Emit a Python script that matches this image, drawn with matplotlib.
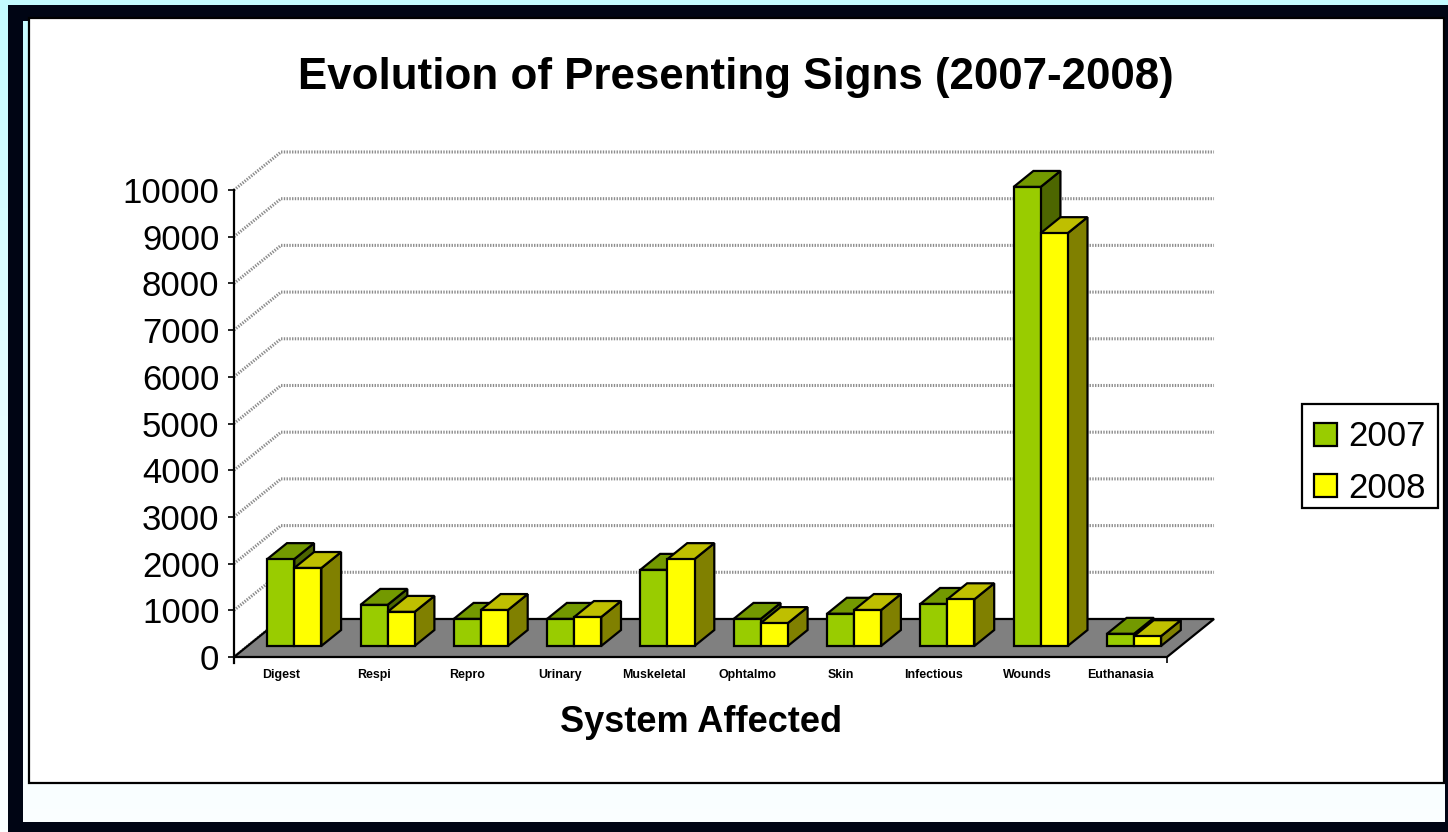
import numpy as np
import matplotlib
matplotlib.use("Agg")
import matplotlib.pyplot as plt
from matplotlib.colors import LinearSegmentedColormap
from matplotlib.patches import Rectangle

plt.rcParams['font.family'] = ['Liberation Sans', 'DejaVu Sans']

categories = ["Digest", "Respi", "Repro", "Urinary", "Muskeletal",
              "Ophtalmo", "Skin", "Infectious", "Wounds", "Euthanasia"]
values_2007 = [1860, 880, 580, 580, 1630, 580, 690, 900, 9830, 260]
values_2008 = [1670, 730, 770, 620, 1860, 490, 770, 1000, 8840, 210]
y_ticks = list(range(0, 11000, 1000))

W, H = 1448, 832


def box(x0, y0, x1, y1):
    # pixel box from the top left -> figure fraction rect
    return [x0 / W, 1 - y1 / H, (x1 - x0) / W, (y1 - y0) / H]


fig = plt.figure(figsize=(W / 100, H / 100), dpi=100)

# slide background
bg = fig.add_axes([0, 0, 1, 1], zorder=0)
bg.set_xlim(0, W)
bg.set_ylim(H, 0)
bg.axis('off')
cmap = LinearSegmentedColormap.from_list('slide', ['#c4fbff', '#e6fdff', '#fbffff'])
grad = np.linspace(0, 1, 256).reshape(-1, 1)
bg.imshow(grad, cmap=cmap, extent=[0, W, H, 0], aspect='auto')
dark = '#000514'
bg.add_patch(Rectangle((8, 5), W - 8, 16, color=dark, lw=0))
bg.add_patch(Rectangle((8, 5), 15, H - 5, color=dark, lw=0))
bg.add_patch(Rectangle((8, 822), W - 8, 10, color=dark, lw=0))
bg.add_patch(Rectangle((1445, 5), 3, H - 5, color=dark, lw=0))
bg.add_patch(Rectangle((29, 18), 1415, 765, facecolor='white', edgecolor='black', lw=1.6))
# legend frame, the legend itself sits on top without one
bg.add_patch(Rectangle((1301.5, 403.5), 136, 104, facecolor='white', edgecolor='black', lw=1.6))

ax = fig.add_axes(box(234, 190, 1167, 657), zorder=1)
ax.patch.set_visible(False)
ax.set_xlim(0, 10)
ax.set_ylim(0, 10000)

# 3d look, all in data units
depth_x = 0.504
depth_y = 814
front = 0.29      # where the bars stand on the floor
deep = 0.42       # how deep the bars are
bar_w = 0.29

# floor
ax.fill([0, 10, 10 + depth_x, depth_x], [0, 0, depth_y, depth_y],
        facecolor='#808080', edgecolor='black', lw=1.6, clip_on=False, zorder=2)

# wall grid
grid_style = dict(color='#8c8c8c', lw=2.2, ls=(0, (0.45, 0.45)), clip_on=False, zorder=1)
for t in y_ticks[1:]:
    ax.plot([0, depth_x, 10 + depth_x], [t, t + depth_y, t + depth_y], **grid_style)
ax.plot([0, depth_x], [0, depth_y], **grid_style)


def draw_series(vals, x_off, face, top, side, z, label):
    xs = np.arange(len(vals)) + 0.5 + depth_x * front + x_off
    base = depth_y * front
    dx = depth_x * deep
    dy = depth_y * deep
    for i, v in enumerate(vals):
        xl = xs[i] - bar_w / 2
        xr = xs[i] + bar_w / 2
        y1 = base + v
        ax.fill([xr, xr + dx, xr + dx, xr], [base, base + dy, y1 + dy, y1],
                facecolor=side, edgecolor='black', lw=1.6, clip_on=False, zorder=z)
        ax.fill([xl, xr, xr + dx, xl + dx], [y1, y1, y1 + dy, y1 + dy],
                facecolor=top, edgecolor='black', lw=1.6, clip_on=False, zorder=z)
    return ax.bar(xs, vals, bar_w, bottom=base, color=face, edgecolor='black',
                  lw=1.6, clip_on=False, zorder=z + 0.5, label=label)


b1 = draw_series(values_2007, -bar_w / 2, '#99cc00', '#739900', '#4d6600', 3, '2007')
b2 = draw_series(values_2008, bar_w / 2, '#ffff00', '#bfbf00', '#808000', 4, '2008')

for s in ['top', 'right', 'bottom']:
    ax.spines[s].set_visible(False)
ax.spines['left'].set_linewidth(1.6)
ax.spines['left'].set_bounds(-130, 10000)
ax.spines['left'].set_zorder(6)

ax.set_yticks(y_ticks)
ax.tick_params(axis='y', labelsize=25, length=4.5, width=1.2, pad=6)

ax.set_xticks([0, 10])
ax.set_xticklabels(['', ''])
ax.tick_params(axis='x', which='major', length=4.5, width=1.2)
ax.set_xticks(np.arange(len(categories)) + 0.5, minor=True)
ax.set_xticklabels(categories, minor=True, fontsize=8.9, fontweight='bold')
ax.tick_params(axis='x', which='minor', length=0, pad=15)
# same baseline for all, otherwise words with descenders sit lower
for lab in ax.get_xticklabels(minor=True):
    lab.set_verticalalignment('baseline')

fig.text(735.5 / W, 1 - 77 / H, "Evolution of Presenting Signs (2007-2008)",
         fontsize=31.6, fontweight='bold', ha='center', va='center', zorder=3)
fig.text(701 / W, 1 - 723 / H, "System Affected",
         fontsize=26, fontweight='bold', ha='center', va='center', zorder=3)

leg = ax.legend(handles=[b1, b2], loc='upper left',
                bbox_to_anchor=(1302.5 / W, 1 - 409 / H), bbox_transform=fig.transFigure,
                fontsize=25, frameon=False, borderaxespad=0, borderpad=0.33,
                handlelength=0.66, handleheight=0.66, handletextpad=0.33,
                labelspacing=0.52)
leg.set_zorder(8)

fig.savefig('out.png', dpi=100)
